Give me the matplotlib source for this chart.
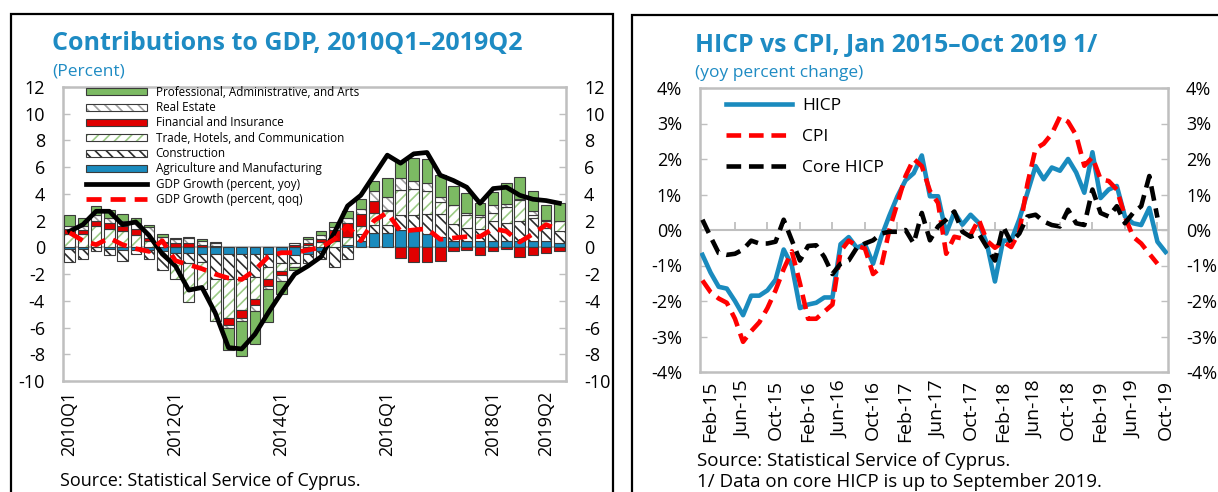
import matplotlib
matplotlib.use("Agg")
import matplotlib.pyplot as plt
from matplotlib.patches import Patch, Rectangle
from matplotlib.lines import Line2D

plt.rcParams['font.family'] = ['Open Sans', 'DejaVu Sans']
plt.rcParams['hatch.linewidth'] = 1.2

TEAL = '#1E8BC3'
FRAME = '#BFBFBF'
EDGE = '#3A3A3A'

# ==========================================
# DATA - left panel (2010Q1 .. 2019Q2)
# ==========================================
quarters = [f'{y}Q{q}' for y in range(2010, 2020) for q in range(1, 5)][:38]
quarter_ticks = ['2010Q1', '2012Q1', '2014Q1', '2016Q1', '2018Q1', '2019Q2']

agri = [-0.1, -0.1, 0.0, -0.1, -0.2, -0.2, -0.2, -0.3, -0.4, -0.4,
        -0.5, -0.5, -0.5, -0.5, -0.5, -0.5, -0.5, -0.6, -0.5, -0.3,
        0.0, 0.2, 0.5, 1.1, 1.1, 1.3, 1.2, 1.0, 0.75, 0.5,
        0.45, 0.45, 0.45, 0.45, 0.45, 0.45, 0.45, 0.3]
constr = [-1.0, -0.8, -0.3, -0.5, -0.8, -0.3, -0.7, -1.4, -0.6, -0.8,
          -0.6, -1.9, -1.9, -1.9, -1.75, -1.0, -0.7, -0.6, -0.7, -0.6,
          -1.5, -0.9, 0.5, 0.6, 0.6, 1.1, 1.25, 1.5, 1.75, 1.25,
          1.0, 0.9, 1.5, 1.4, 1.5, 1.75, 1.0, 0.9]
trade = [1.0, 1.0, 1.6, 1.4, 1.2, 0.9, 0.5, 0.3, -1.4, -2.9,
         -2.0, -3.1, -2.9, -2.25, -1.6, -0.9, -0.6, -0.3, 0.2, 0.4,
         0.5, 0.6, 0.6, 0.9, 1.0, 1.9, 1.9, 1.75, 0.9, 1.4,
         1.0, 0.9, 0.6, 1.2, 1.6, 0.2, 0.5, 0.75]
fin = [0.4, 0.3, 0.4, 0.4, 0.4, 0.5, 0.2, 0.1, 0.3, 0.3,
       0.2, 0.1, -0.5, -0.6, -0.5, -0.5, -0.3, 0.2, 0.1, 0.2,
       0.8, 1.0, 0.9, 0.9, 0.1, -0.8, -1.1, -1.1, -1.0, -0.3,
       -0.2, -0.6, -0.3, -0.1, -0.7, -0.6, -0.4, -0.3]
real_estate = [0.2, 0.3, 0.4, 0.4, 0.4, 0.4, 0.8, 0.4, 0.3, 0.4,
               0.3, 0.2, -0.25, -0.25, -0.4, -0.25, -0.4, 0.1, 0.3, 0.3,
               0.2, 0.4, 0.4, 0.75, 1.0, 0.9, 0.6, 0.6, 0.4, 0.05,
               0.1, 0.2, 0.6, 0.2, 0.1, 0.3, 0.1, 0.05]
prof = [0.8, 0.6, 0.7, 0.6, 0.5, 0.4, 0.2, 0.2, 0.1, 0.1,
        0.1, 0.1, -1.6, -2.6, -2.5, -2.4, -1.0, -0.2, 0.2, 0.3,
        0.4, 0.5, 0.7, 0.75, 1.4, 1.25, 1.75, 1.75, 1.6, 1.4,
        1.5, 0.85, 1.0, 1.6, 1.6, 1.5, 1.1, 1.35]
gdp_yoy = [1.2, 1.7, 2.7, 2.7, 1.7, 1.9, 0.9, -0.5, -1.4, -3.2,
           -3.0, -4.9, -7.5, -7.6, -6.5, -4.9, -3.4, -2.0, -1.4, -0.7,
           1.1, 3.1, 3.9, 5.4, 6.9, 6.3, 7.0, 7.1, 5.4, 5.0,
           4.5, 3.3, 4.4, 4.5, 3.9, 3.6, 3.5, 3.3]
gdp_qoq = [1.1, 0.5, 0.2, 0.7, 0.2, -0.1, -0.3, 0.5, -1.0, -1.3,
           -1.6, -2.0, -2.3, -2.4, -1.7, -0.7, -0.4, -0.4, -0.2, 0.0,
           0.6, 1.6, 0.5, 2.0, 2.6, 1.2, 1.3, 1.4, 0.6, 0.7,
           0.8, 0.8, 1.4, 1.2, 0.4, 1.0, 1.7, 1.3]

# ==========================================
# DATA - right panel (Jan 2015 .. Oct 2019)
# ==========================================
month_names = ['Jan', 'Feb', 'Mar', 'Apr', 'May', 'Jun', 'Jul', 'Aug', 'Sep', 'Oct', 'Nov', 'Dec']
months = [f'{m}-{y % 100}' for y in range(2015, 2020) for m in month_names][:58]

hicp = [-0.7, -1.2, -1.6, -1.65, -2.0, -2.4, -1.85, -1.85, -1.7, -1.4,
        -0.55, -1.0, -2.2, -2.1, -2.05, -1.9, -1.9, -0.4, -0.2, -0.5,
        -0.4, -0.95, -0.2, 0.4, 0.95, 1.4, 1.6, 2.1, 0.95, 0.95,
        -0.1, 0.5, 0.15, 0.43, 0.2, -0.38, -1.45, -0.3, -0.3, 0.3,
        1.05, 1.8, 1.43, 1.76, 1.67, 2.0, 1.62, 1.05, 2.19, 0.9,
        1.14, 1.24, 0.38, 0.19, 0.14, 0.62, -0.33, -0.62]
cpi = [-1.42, -1.75, -1.93, -2.05, -2.5, -3.15, -2.85, -2.6, -2.2, -1.7,
       -1.1, -0.6, -1.5, -2.5, -2.5, -2.3, -2.1, -0.6, -0.3, -0.45,
       -0.52, -1.24, -1.05, 0.0, 0.76, 1.52, 2.0, 1.8, 1.1, 0.76,
       -0.67, -0.19, -0.24, -0.14, 0.3, -0.3, -0.5, -0.33, -0.48, -0.05,
       1.3, 2.29, 2.43, 2.71, 3.19, 3.05, 2.67, 1.81, 2.05, 1.43,
       1.38, 1.14, 0.38, -0.19, -0.38, -0.67, -0.95]
core_hicp = [0.29, -0.19, -0.65, -0.7, -0.67, -0.55, -0.3, -0.38, -0.38, -0.33,
             0.29, -0.29, -0.86, -0.45, -0.43, -0.76, -1.24, -0.95, -0.86, -0.5,
             -0.38, -0.29, -0.1, -0.05, -0.05, 0.0, -0.38, 0.48, -0.29, 0.1,
             0.29, 0.52, -0.05, -0.19, -0.1, -0.48, -0.86, 0.1, -0.35, -0.1,
             0.38, 0.43, 0.24, 0.14, 0.1, 0.57, 0.19, 0.14, 1.14, 0.48,
             0.38, 0.67, 0.19, 0.48, 0.67, 1.52, 0.35]

# ==========================================
# FIGURE
# ==========================================
W, H = 1218, 492
fig = plt.figure(figsize=(W / 100, H / 100), dpi=100)


def px_box(x0, y0, x1, y1):
    """pixel box (top-left origin) -> figure fraction rect"""
    return [x0 / W, 1 - y1 / H, (x1 - x0) / W, (y1 - y0) / H]


# outer panel frames
for x0, y0, x1 in [(11, 14, 613), (632, 15, 1240)]:
    fig.add_artist(Rectangle((x0 / W, -0.1), (x1 - x0) / W, 1.1 - y0 / H,
                             transform=fig.transFigure, fill=False,
                             lw=1.6, ec='black'))

# ---------- left panel ----------
axL = fig.add_axes(px_box(63, 87, 566, 381))
x = list(range(len(quarters)))

# stacking order, bottom to top
series = [
    (agri, '#1A8BBE', None),
    (constr, 'white', ('\\\\\\', '#2B2B2B')),
    (trade, 'white', ('///', '#9CCB86')),
    (fin, '#E00000', None),
    (real_estate, 'white', ('\\\\\\', '#A0A0A0')),
    (prof, '#7CBA63', None),
]
pos_base = [0.0] * len(x)
neg_base = [0.0] * len(x)
bw = 0.8
for vals, fc, hatch in series:
    bottoms = []
    for i, v in enumerate(vals):
        if v >= 0:
            bottoms.append(pos_base[i])
            pos_base[i] += v
        else:
            bottoms.append(neg_base[i])
            neg_base[i] += v
    if hatch is None:
        axL.bar(x, vals, bw, bottom=bottoms, color=fc,
                edgecolor=EDGE, linewidth=0.8, zorder=3)
    else:
        axL.bar(x, vals, bw, bottom=bottoms, color='white',
                edgecolor=hatch[1], hatch=hatch[0], linewidth=0, zorder=3)
        axL.bar(x, vals, bw, bottom=bottoms, fill=False,
                edgecolor=EDGE, linewidth=0.8, zorder=3)

axL.plot(x, gdp_yoy, color='black', lw=3.4, zorder=5)
axL.plot(x, gdp_qoq, color='#FF0000', lw=3.4, dashes=(3.2, 1.9), zorder=6)
axL.axhline(0, color=FRAME, lw=1.5, zorder=2)

axL.set_xlim(-0.5, len(x) - 0.5)
axL.set_ylim(-10, 12)
axL.set_yticks(range(-10, 13, 2))
axL.set_yticklabels([str(v) for v in range(-10, 13, 2)])
# the last label sits a bar to the left in the source figure
tick_pos = [quarters.index(q) for q in quarter_ticks]
tick_pos[-1] -= 1
axL.set_xticks(tick_pos)
axL.set_xticklabels(quarter_ticks, rotation=90, fontsize=13)
axL.tick_params(axis='y', direction='in', length=5, width=1, color=FRAME,
                labelsize=13, pad=13, right=True, labelright=True)
axL.tick_params(axis='x', length=0, pad=7)
for s in axL.spines.values():
    s.set_color(FRAME)
    s.set_linewidth(1.8)

legL = [
    Patch(fc='#7CBA63', ec=EDGE, lw=0.8),
    (Patch(fc='white', ec='#A0A0A0', hatch='\\\\\\', lw=0), Patch(fill=False, ec=EDGE, lw=0.8)),
    Patch(fc='#E00000', ec=EDGE, lw=0.8),
    (Patch(fc='white', ec='#9CCB86', hatch='///', lw=0), Patch(fill=False, ec=EDGE, lw=0.8)),
    (Patch(fc='white', ec='#2B2B2B', hatch='\\\\\\', lw=0), Patch(fill=False, ec=EDGE, lw=0.8)),
    Patch(fc='#1A8BBE', ec=EDGE, lw=0.8),
    Line2D([], [], color='black', lw=3.4),
    Line2D([], [], color='#FF0000', lw=3.4, dashes=(3.2, 1.9)),
]
legL_labels = ['Professional, Administrative, and Arts', 'Real Estate',
               'Financial and Insurance', 'Trade, Hotels, and Communication',
               'Construction', 'Agriculture and Manufacturing',
               'GDP Growth (percent, yoy)', 'GDP Growth (percent, qoq)']
axL.legend(legL, legL_labels, loc='upper left', bbox_to_anchor=(0.045, 1.004),
           frameon=False, fontsize=8.4, handlelength=5.3, handleheight=0.55,
           labelspacing=0.2, handletextpad=0.7, borderpad=0, borderaxespad=0)

fig.text(52 / W, 1 - 43 / H, 'Contributions to GDP, 2010Q1\u20132019Q2',
         color=TEAL, fontsize=18, fontweight='bold', va='center')
fig.text(52 / W, 1 - 72 / H, '(Percent)', color=TEAL, fontsize=12.5, va='center')
fig.text(60 / W, 1 - 481 / H, 'Source: Statistical Service of Cyprus.',
         fontsize=13, va='center')

# ---------- right panel ----------
axR = fig.add_axes(px_box(700, 88, 1168, 372))
m = list(range(len(months)))
axR.plot(m[:len(hicp)], hicp, color='#1A8BBE', lw=3.3, label='HICP', zorder=3)
axR.plot(m[:len(cpi)], cpi, color='#FF0000', lw=3.3, dashes=(3.2, 1.7),
         label='CPI', zorder=4)
axR.plot(m[:len(core_hicp)], core_hicp, color='black', lw=3.3,
         dashes=(3.2, 1.7), label='Core HICP', zorder=5)
axR.axhline(0, color=FRAME, lw=1.5, zorder=1)
axR.vlines(range(4, len(months), 4), 0, 0.22, color=FRAME, lw=1.3, zorder=1)

axR.set_xlim(-0.3, len(months) - 0.7)
axR.set_ylim(-4, 4)
axR.set_yticks(range(-4, 5))
axR.set_yticklabels([f'{v}%' for v in range(-4, 5)])
axR.set_xticks(m[1::4])
axR.set_xticklabels(months[1::4], rotation=90, fontsize=14)
axR.tick_params(axis='y', direction='in', length=5, width=1, color=FRAME,
                labelsize=13, pad=13, right=True, labelright=True)
axR.tick_params(axis='x', length=0, pad=6)
for s in axR.spines.values():
    s.set_color(FRAME)
    s.set_linewidth(1.8)
axR.legend(loc='upper left', bbox_to_anchor=(0.055, 0.965), frameon=False,
           fontsize=12.5, handlelength=3.8, labelspacing=0.85,
           handletextpad=0.6, borderpad=0, borderaxespad=0)

fig.text(695 / W, 1 - 45 / H, 'HICP vs CPI, Jan 2015\u2013Oct 2019 1/',
         color=TEAL, fontsize=17.8, fontweight='bold', va='center')
fig.text(695 / W, 1 - 73 / H, '(yoy percent change)', color=TEAL,
         fontsize=12.5, va='center')
fig.text(697 / W, 1 - 461 / H, 'Source: Statistical Service of Cyprus.',
         fontsize=13.5, va='center')
fig.text(697 / W, 1 - 482 / H, '1/ Data on core HICP is up to September 2019.',
         fontsize=13.5, va='center')

fig.savefig('out.png', dpi=100)
